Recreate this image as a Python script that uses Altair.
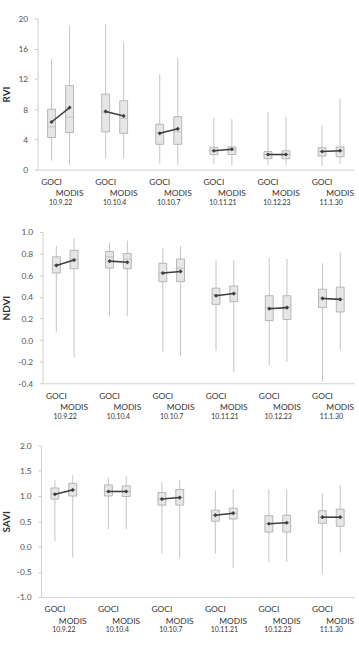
import altair as alt
import pandas as pd

dates = ["10.9.22", "10.10.4", "10.10.7", "10.11.21", "10.12.23", "11.1.30"]
sensors = ["GOCI", "MODIS"]

# order: date1 GOCI, date1 MODIS, date2 GOCI, ...
rvi_min = [1.2, 0.65, 1.5, 1.5, 0.8, 0.65, 0.75, 0.5, 0.65, 0.65, 0.45, 0.8]
rvi_q1 = [4.25, 4.9, 5.0, 4.8, 3.35, 3.35, 2.0, 2.0, 1.45, 1.45, 1.8, 1.7]
rvi_med = [5.65, 6.95, 7.6, 6.8, 4.9, 5.0, 2.5, 2.6, 2.0, 2.0, 2.4, 2.5]
rvi_q3 = [8.0, 11.1, 10.0, 9.1, 6.0, 7.0, 2.95, 3.0, 2.4, 2.5, 2.9, 3.0]
rvi_max = [14.6, 19.0, 19.3, 16.8, 12.6, 14.8, 6.8, 6.7, 7.6, 7.0, 5.9, 9.35]
rvi_mean = [6.3, 8.2, 7.7, 7.1, 4.8, 5.4, 2.5, 2.7, 2.0, 2.0, 2.4, 2.5]

ndvi_min = [0.07, -0.16, 0.22, 0.22, -0.105, -0.15, -0.10, -0.30, -0.23, -0.20, -0.385, -0.09]
ndvi_q1 = [0.62, 0.66, 0.665, 0.66, 0.54, 0.54, 0.33, 0.355, 0.18, 0.19, 0.30, 0.26]
ndvi_med = [0.695, 0.75, 0.77, 0.75, 0.62, 0.665, 0.42, 0.43, 0.30, 0.305, 0.39, 0.376]
ndvi_q3 = [0.77, 0.83, 0.82, 0.80, 0.71, 0.75, 0.48, 0.50, 0.41, 0.41, 0.47, 0.49]
ndvi_max = [0.87, 0.94, 0.90, 0.92, 0.85, 0.87, 0.74, 0.74, 0.76, 0.75, 0.71, 0.81]
ndvi_mean = [0.69, 0.74, 0.73, 0.72, 0.62, 0.635, 0.41, 0.43, 0.29, 0.30, 0.385, 0.376]

savi_min = [0.11, -0.22, 0.34, 0.34, -0.14, -0.22, -0.14, -0.43, -0.32, -0.30, -0.55, -0.12]
savi_q1 = [0.94, 1.0, 1.0, 0.99, 0.82, 0.82, 0.50, 0.545, 0.285, 0.285, 0.46, 0.40]
savi_med = [1.04, 1.12, 1.09, 1.09, 0.94, 0.97, 0.62, 0.66, 0.45, 0.47, 0.58, 0.58]
savi_q3 = [1.16, 1.25, 1.22, 1.20, 1.07, 1.13, 0.72, 0.76, 0.61, 0.62, 0.71, 0.74]
savi_max = [1.315, 1.41, 1.36, 1.39, 1.28, 1.31, 1.11, 1.13, 1.13, 1.13, 1.05, 1.22]
savi_mean = [1.035, 1.12, 1.09, 1.09, 0.94, 0.97, 0.62, 0.66, 0.45, 0.47, 0.58, 0.58]

rvi_ticks = [0, 4, 8, 12, 16, 20]
ndvi_ticks = [-0.4, -0.2, 0.0, 0.2, 0.4, 0.6, 0.8, 1.0]
savi_ticks = [-1.0, -0.5, 0.0, 0.5, 1.0, 1.5, 2.0]

FONT = "Lato"
H = 153
W = 315


def make_df(mins, q1s, meds, q3s, maxs, means):
    rows = []
    for i, d in enumerate(dates):
        for j, s in enumerate(sensors):
            k = i * 2 + j
            rows.append(dict(date=d, sensor=s, pos=i * 3 + j + 0.5, lo=mins[k], q1=q1s[k],
                             med=meds[k], q3=q3s[k], hi=maxs[k], mean=means[k]))
    return pd.DataFrame(rows)


lab_df = pd.DataFrame({
    "sensor": [s for d in dates for s in sensors],
    "pos": [i * 3 + j + 0.5 for i in range(len(dates)) for j in range(len(sensors))],
})
date_df = pd.DataFrame({"date": dates, "pos": [i * 3 + 1.0 for i in range(len(dates))]})


def panel(name, df, domain, ticks, fmt, shift):
    # shift: how many pixels this panel's axis sits left of the common origin
    xscale = alt.Scale(domain=[0, 17], nice=False, zero=False, range=[-shift, W])
    xaxis = alt.Axis(labels=False, ticks=False, grid=False, title=None,
                     domainColor="#d0d0d0", domainWidth=1)

    def X():
        return alt.X("pos:Q", scale=xscale, axis=xaxis)

    yscale = alt.Scale(domain=domain, nice=False, zero=False)
    yaxis = alt.Axis(values=ticks, format=fmt, grid=False, tickSize=3, tickColor="#c8c8c8",
                     domainColor="#d0d0d0", labelPadding=7, labelFont=FONT, labelFontSize=8.5,
                     labelColor="#555555", labelExpr="replace(datum.label, '\u2212', '-')",
                     titleFont=FONT, titleFontSize=10, titleFontWeight="bold",
                     titleColor="#333333", titleX=-36 + shift, titleY=H / 2, titleBaseline="middle",
                     titleAngle=270, offset=shift)

    def Y(f):
        return alt.Y(f"{f}:Q", title=name, scale=yscale, axis=yaxis)

    base = alt.Chart(df)
    whisk = base.mark_rule(color="#c4c4c4", strokeWidth=1).encode(x=X(), y=Y("lo"), y2="hi")
    box = base.mark_bar(size=8, fill="#e6e6e6", stroke="#a8a8a8", strokeWidth=0.8).encode(
        x=X(), y=Y("q1"), y2="q3")
    med = base.mark_tick(orient="horizontal", size=8, thickness=0.8, color="#a8a8a8").encode(
        x=X(), y=Y("med"))
    line = base.mark_line(color="#3f3f3f", strokeWidth=1.6).encode(
        x=X(), y=Y("mean"), detail="date:N")
    pts = base.mark_point(shape="diamond", filled=True, size=18, color="#3f3f3f", opacity=1).encode(
        x=X(), y=Y("mean"))

    goci = alt.Chart(lab_df).transform_filter(alt.datum.sensor == "GOCI").mark_text(
        font=FONT, fontSize=8.5, color="#333333", baseline="middle").encode(
        x=X(), y=alt.value(H + 12.5), text="sensor:N")
    modis = alt.Chart(lab_df).transform_filter(alt.datum.sensor == "MODIS").mark_text(
        font=FONT, fontSize=8.5, color="#333333", baseline="middle").encode(
        x=X(), y=alt.value(H + 24), text="sensor:N")
    dlab = alt.Chart(date_df).mark_text(
        font=FONT, fontSize=7, color="#333333", baseline="middle").encode(
        x=X(), y=alt.value(H + 33.8), text="date:N")

    return alt.layer(whisk, box, med, line, pts, goci, modis, dlab).properties(width=W, height=H)


p1 = panel("RVI", make_df(rvi_min, rvi_q1, rvi_med, rvi_q3, rvi_max, rvi_mean),
           [0, 20], rvi_ticks, "d", 5)
p2 = panel("NDVI", make_df(ndvi_min, ndvi_q1, ndvi_med, ndvi_q3, ndvi_max, ndvi_mean),
           [-0.4, 1.0], ndvi_ticks, ".1f", 0)
p3 = panel("SAVI", make_df(savi_min, savi_q1, savi_med, savi_q3, savi_max, savi_mean),
           [-1.0, 2.0], savi_ticks, ".1f", 1.5)

chart = alt.vconcat(p1, p2, p3, spacing=22).properties(
    padding={"left": 2, "top": 11, "right": 0, "bottom": 0},
    background="white",
).configure_view(stroke=None)

chart.save("out.html", embed_options={"renderer": "svg", "actions": False})
